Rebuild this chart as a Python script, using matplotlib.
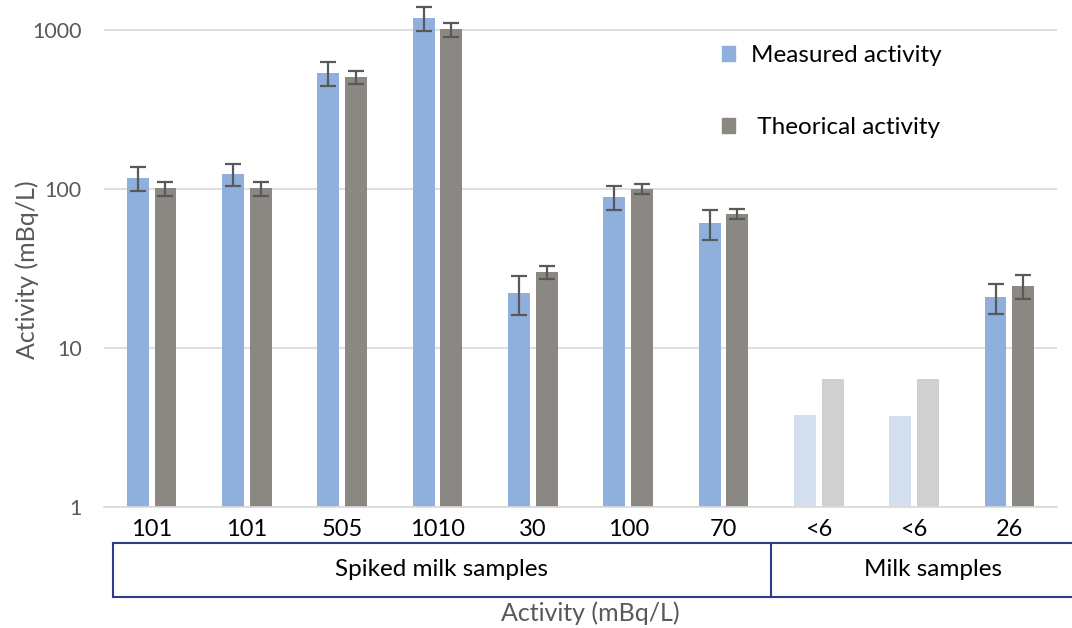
import numpy as np
import matplotlib
matplotlib.use("Agg")
import matplotlib.pyplot as plt
from matplotlib.patches import Patch
from matplotlib.lines import Line2D
from matplotlib.transforms import blended_transform_factory

plt.rcParams['font.family'] = ['Lato', 'DejaVu Sans']

# values
labels = ['101', '101', '505', '1010', '30', '100', '70', '<6', '<6', '26']
measured = [117, 124, 537, 1190, 22.2, 89, 61, 3.8, 3.75, 20.9]
measured_err = [20, 20, 90, 200, 6, 15.5, 13, np.nan, np.nan, 4.5]
theorical = [101, 101, 505, 1010, 30, 100, 70, 6.4, 6.4, 24.5]
theorical_err = [10, 10, 50, 100, 3, 7.5, 5, np.nan, np.nan, 4.2]
below_limit = [False] * 7 + [True, True] + [False]
groups = ['Spiked milk samples', 'Milk samples']

blue, blue_faded = '#8FB0DC', '#D3DEEF'
grey, grey_faded = '#8B8883', '#D1D0CE'
dark = '#595959'
navy = '#2F3C8C'

fig = plt.figure(figsize=(10.72, 6.28), dpi=100)
ax = fig.add_axes([104/1072, 1 - 507/628, 953/1072, 507/628])

x = np.arange(len(labels))
w = 0.23
off = 0.145
c_meas = [blue_faded if b else blue for b in below_limit]
c_theo = [grey_faded if b else grey for b in below_limit]

ax.bar(x - off, measured, w, color=c_meas, zorder=2)
ax.bar(x + off, theorical, w, color=c_theo, zorder=2)
ax.errorbar(x - off, measured, yerr=measured_err, fmt='none', ecolor=dark,
            elinewidth=1.6, capsize=6, capthick=1.6, zorder=3)
ax.errorbar(x + off, theorical, yerr=theorical_err, fmt='none', ecolor=dark,
            elinewidth=1.6, capsize=6, capthick=1.6, zorder=3)

ax.set_yscale('log')
ax.set_ylim(1, 10 ** (507 / 159))
ax.set_xlim(-0.5, len(labels) - 0.5)
ax.set_yticks([1, 10, 100, 1000], ['1', '10', '100', '1000'])
ax.yaxis.set_minor_locator(plt.NullLocator())
ax.set_xticks(x, labels)
ax.tick_params(axis='y', length=0, pad=16, labelsize=15.5, labelcolor=dark)
ax.tick_params(axis='x', length=0, pad=9, labelsize=17, labelcolor='black')
ax.grid(axis='y', color='#D9D9D9', linewidth=1.2, zorder=0)
ax.set_axisbelow(True)
for s in ['top', 'right', 'left']:
    ax.spines[s].set_visible(False)
ax.spines['bottom'].set_color('#D9D9D9')
ax.spines['bottom'].set_linewidth(1.2)

# group box under the category labels
tr = blended_transform_factory(ax.transData, fig.transFigure)
y_top, y_bot = 1 - 543/628, 1 - 597/628
x_left, x_div, x_right = -0.41, 6.5, 9.9
for xs, ys in [([x_left, x_right], [y_top, y_top]),
               ([x_left, x_right], [y_bot, y_bot]),
               ([x_left, x_left], [y_top, y_bot]),
               ([x_div, x_div], [y_top, y_bot])]:
    fig.add_artist(Line2D(xs, ys, transform=tr, color=navy, linewidth=1.5,
                          clip_on=False))
ym = (y_top + y_bot) / 2
fig.text((x_left + x_div) / 2, ym, groups[0], transform=tr,
         ha='center', va='center', fontsize=17.5)
fig.text((x_div + x_right) / 2, ym, groups[1], transform=tr,
         ha='center', va='center', fontsize=17.5)

fig.text(590/1072, 1 - 613/628, 'Activity (mBq/L)', ha='center', va='center',
         fontsize=18, color=dark)
fig.text(27/1072, 1 - 270/628, 'Activity (mBq/L)', ha='center', va='center',
         rotation=90, fontsize=18, color=dark)

handles = [Patch(color=blue), Patch(color=grey)]
ax.legend(handles, ['Measured activity', ' Theorical activity'],
          loc='upper left', bbox_to_anchor=(722/1072, 1 - 45/628),
          bbox_transform=fig.transFigure, frameon=False, fontsize=17.5,
          handlelength=0.55, handleheight=0.55, handletextpad=0.65,
          labelspacing=2.1, borderpad=0, borderaxespad=0)

fig.savefig('out.png', dpi=100)
